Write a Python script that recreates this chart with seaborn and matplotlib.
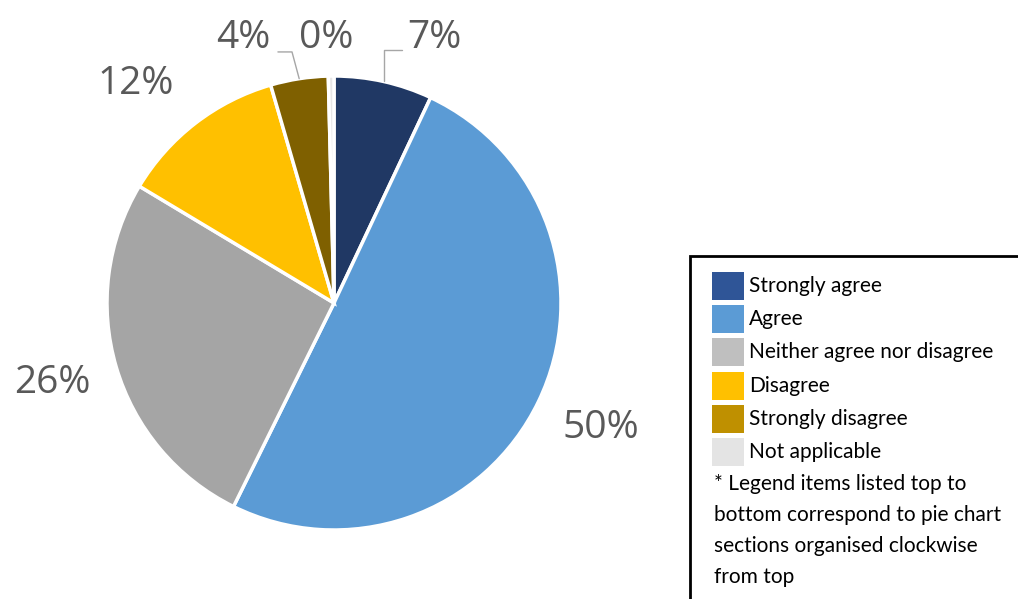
import numpy as np
import matplotlib
matplotlib.use("Agg")
import matplotlib.pyplot as plt
from matplotlib.patches import Rectangle
import seaborn as sns

# Survey responses (percent), clockwise from the top of the pie
categories = ["Strongly agree", "Agree", "Neither agree nor disagree",
              "Disagree", "Strongly disagree", "Not applicable"]
shares = [7.0, 50.3, 26.3, 11.9, 4.1, 0.4]

pie_colors = ["#203864", "#5B9BD5", "#A5A5A5", "#FFC000", "#7F6000", "#E7E6E6"]
legend_colors = ["#2F5597", "#5B9BD5", "#BFBFBF", "#FFC000", "#BF9000", "#E4E4E4"]

footnote = ["* Legend items listed top to",
            "bottom correspond to pie chart",
            "sections organised clockwise",
            "from top"]

sns.set_theme(style="white")
plt.rcParams["font.family"] = ["Open Sans", "DejaVu Sans"]

W, H = 1018, 599
fig = plt.figure(figsize=(W / 100, H / 100), dpi=100)
fig.patch.set_facecolor("white")

# pie axes: centre (334, 303) px, radius 227 px
cx, cy, r = 334, 303, 227
ax = fig.add_axes([(cx - r) / W, (H - cy - r) / H, 2 * r / W, 2 * r / H])

wedges, _ = ax.pie(shares, colors=pie_colors, startangle=90, counterclock=False,
                   wedgeprops=dict(edgecolor="white", linewidth=2.5))
ax.set_xlim(-1, 1)
ax.set_ylim(-1, 1)
ax.set_axis_off()

# data label positions (axes data units)
label_pos = [(0.44, 1.167), (1.176, -0.551), (-1.242, -0.352),
             (-0.872, 0.966), (-0.401, 1.167), (-0.035, 1.167)]
for v, (lx, ly) in zip(shares, label_pos):
    ax.text(lx, ly, f"{v:.0f}%", ha="center", va="center", fontsize=28,
            color="#595959", clip_on=False)

# leader lines for the small top slices: (elbow x, elbow y, end x)
leaders = {0: (None, 1.115, 0.30), 4: (-0.185, 1.106, -0.247)}
cum = np.cumsum([0] + shares) / sum(shares)
for i, (ex, ey, endx) in leaders.items():
    mid = (cum[i] + cum[i + 1]) / 2 * 2 * np.pi
    sx, sy = np.sin(mid), np.cos(mid)
    if ex is None:
        ex = sx
    ax.plot([sx, ex, endx], [sy, ey, ey], color="#A6A6A6", lw=1, clip_on=False)

# legend panel, drawn in figure pixel coordinates
def fx(px):
    return px / W

def fy(py):
    return 1 - py / H

fig.patches.append(Rectangle((fx(690), fy(640)), (1060 - 690) / W, (640 - 256) / H,
                             transform=fig.transFigure, fill=False,
                             edgecolor="black", linewidth=2))
leg_font = ["Lato", "DejaVu Sans"]
for k, (name, col) in enumerate(zip(categories, legend_colors)):
    yc = 286 + 33.2 * k
    fig.patches.append(Rectangle((fx(712), fy(yc + 14)), 32 / W, 28 / H,
                                 transform=fig.transFigure, facecolor=col,
                                 edgecolor="none"))
    fig.text(fx(749), fy(yc), name, ha="left", va="center", fontsize=15,
             color="black", family=leg_font)
for k, line in enumerate(footnote):
    fig.text(fx(714), fy(484 + 31 * k), line, ha="left", va="center",
             fontsize=15, color="black", family=leg_font)

fig.savefig("out.png", dpi=100, facecolor="white")
